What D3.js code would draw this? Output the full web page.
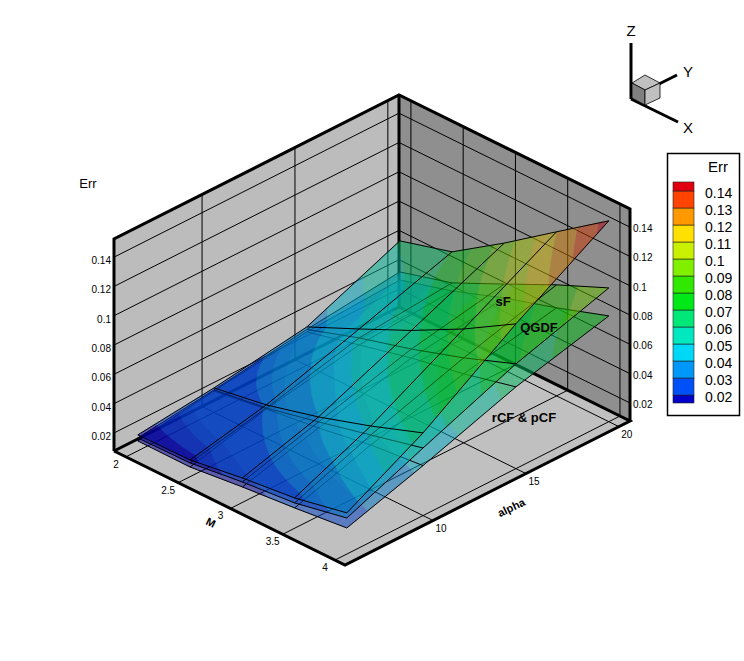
<!DOCTYPE html>
<html>
<head>
<meta charset="utf-8">
<script src="https://cdn.jsdelivr.net/npm/d3@7"></script>
<style>
  html, body { margin: 0; background: #fff; }
  text { font-family: "Liberation Sans", Arial, sans-serif; fill: #000; }
</style>
</head>
<body>
<div id="chart"></div>
<script>
// Grid of the three surfaces
const mValues = [2, 2.5, 3, 3.5, 4];
const alphaValues = [5.9, 10, 15, 20];

// Err, one row per alpha value, one column per M value
const sF = [
  [0.0186, 0.0191, 0.0244, 0.0284, 0.0358],
  [0.0244, 0.0304, 0.0398, 0.0512, 0.0641],
  [0.034, 0.0502, 0.0668, 0.0854, 0.1065],
  [0.0607, 0.0708, 0.0944, 0.1197, 0.1448]
];
const qgdf = [
  [0.0165, 0.0171, 0.0217, 0.025, 0.0323],
  [0.023, 0.0283, 0.0364, 0.0451, 0.0538],
  [0.0323, 0.0441, 0.0541, 0.0657, 0.0792],
  [0.0395, 0.0496, 0.0664, 0.0835, 0.099]
];
const rcf = [
  [0.0145, 0.0143, 0.0183, 0.0216, 0.0255],
  [0.0223, 0.0276, 0.0323, 0.0383, 0.0418],
  [0.0306, 0.0393, 0.048, 0.0548, 0.0635],
  [0.034, 0.0441, 0.0569, 0.0678, 0.0799]
];

const mTicks = [2, 2.5, 3, 3.5, 4];
const alphaTicks = [10, 15, 20];
const errTicks = [0.02, 0.04, 0.06, 0.08, 0.1, 0.12, 0.14];

const levels = [0.02, 0.03, 0.04, 0.05, 0.06, 0.07, 0.08, 0.09, 0.1, 0.11, 0.12, 0.13, 0.14];
const levelColors = ['#0000c8', '#0050f8', '#0098f8', '#00d8f8', '#00e8c0', '#00e878', '#00e818',
  '#30e800', '#80f000', '#c8f000', '#ffe000', '#ff9900', '#ff4400', '#e00010'];

const width = 744, height = 661;

const svg = d3.select('#chart').append('svg')
  .attr('width', width)
  .attr('height', height)
  .style('display', 'block');

// Parallel projection of the box: each axis is a scale along its own screen direction
const origin = [114, 451];
const scaleM = d3.scaleLinear().domain([1.886, 4.096]).range([0, 1]);
const scaleAlpha = d3.scaleLinear().domain([5.26, 20.6]).range([0, 1]);
const scaleErr = d3.scaleLinear().domain([0.0077, 0.1524]).range([0, 1]);
const color = d3.scaleThreshold().domain(levels).range(levelColors);

function project(m, a, z) {
  const u = scaleM(m), v = scaleAlpha(a), w = scaleErr(z);
  return [origin[0] + u * 231 + v * 285, origin[1] + u * 114 - v * 144 - w * 212];
}

const mMin = scaleM.domain()[0], mMax = scaleM.domain()[1];
const aMin = scaleAlpha.domain()[0], aMax = scaleAlpha.domain()[1];
const zMin = scaleErr.domain()[0], zMax = scaleErr.domain()[1];

const line = d3.line();
const poly = pts => 'M' + pts.map(p => p.join(',')).join('L') + 'Z';

// Walls and floor
const box = svg.append('g');
box.append('path')
  .attr('d', poly([project(mMin, aMin, zMin), project(mMax, aMin, zMin), project(mMax, aMax, zMin), project(mMin, aMax, zMin)]))
  .attr('fill', '#c0c0c0');
box.append('path')
  .attr('d', poly([project(mMin, aMin, zMin), project(mMin, aMax, zMin), project(mMin, aMax, zMax), project(mMin, aMin, zMax)]))
  .attr('fill', '#bcbcbc');
box.append('path')
  .attr('d', poly([project(mMin, aMax, zMin), project(mMax, aMax, zMin), project(mMax, aMax, zMax), project(mMin, aMax, zMax)]))
  .attr('fill', '#8f8f8f');

// Grid lines
const gridLines = [];
mTicks.forEach(m => {
  gridLines.push([project(m, aMin, zMin), project(m, aMax, zMin)]);
  gridLines.push([project(m, aMax, zMin), project(m, aMax, zMax)]);
});
alphaTicks.forEach(a => {
  gridLines.push([project(mMax, a, zMin), project(mMin, a, zMin)]);
  gridLines.push([project(mMin, a, zMin), project(mMin, a, zMax)]);
});
errTicks.forEach(z => {
  gridLines.push([project(mMin, aMin, z), project(mMin, aMax, z)]);
  gridLines.push([project(mMin, aMax, z), project(mMax, aMax, z)]);
});
box.selectAll('path.grid').data(gridLines).enter().append('path')
  .attr('class', 'grid')
  .attr('d', line)
  .attr('fill', 'none')
  .attr('stroke', '#000')
  .attr('stroke-width', 1);

// Thick box edges
const edges = [
  [project(mMin, aMin, zMin), project(mMin, aMin, zMax), project(mMin, aMax, zMax), project(mMax, aMax, zMax), project(mMax, aMax, zMin)],
  [project(mMin, aMin, zMin), project(mMax, aMin, zMin), project(mMax, aMax, zMin), project(mMin, aMax, zMin), project(mMin, aMin, zMin)],
  [project(mMin, aMax, zMin), project(mMin, aMax, zMax)]
];
box.selectAll('path.edge').data(edges).enter().append('path')
  .attr('class', 'edge')
  .attr('d', line)
  .attr('fill', 'none')
  .attr('stroke', '#000')
  .attr('stroke-width', 3)
  .attr('stroke-linejoin', 'miter');

// Keep the part of a polygon on one side of an Err level
function clipAbove(pts, lim, sign) {
  const out = [];
  pts.forEach((p, i) => {
    const q = pts[(i + 1) % pts.length];
    const dp = (p[2] - lim) * sign, dq = (q[2] - lim) * sign;
    if (dp >= 0) out.push(p);
    if ((dp >= 0) !== (dq >= 0)) {
      const t = dp / (dp - dq);
      out.push([p[0] + t * (q[0] - p[0]), p[1] + t * (q[1] - p[1]), p[2] + t * (q[2] - p[2])]);
    }
  });
  return out;
}

// Flood bands: every cell is cut finer so the contours bend as a bilinear cell does
const cellCuts = 6;
function bandPieces(values) {
  const pieces = [];
  const bounds = [-1].concat(levels, [1]);
  for (let j = 0; j < alphaValues.length - 1; j++) {
    for (let i = 0; i < mValues.length - 1; i++) {
      const sample = (s, t) => {
        const low = d3.interpolateNumber(values[j][i], values[j][i + 1])(s);
        const high = d3.interpolateNumber(values[j + 1][i], values[j + 1][i + 1])(s);
        return [
          d3.interpolateNumber(mValues[i], mValues[i + 1])(s),
          d3.interpolateNumber(alphaValues[j], alphaValues[j + 1])(t),
          d3.interpolateNumber(low, high)(t)
        ];
      };
      for (let a = 0; a < cellCuts; a++) {
        for (let b = 0; b < cellCuts; b++) {
          const s0 = a / cellCuts, s1 = (a + 1) / cellCuts, t0 = b / cellCuts, t1 = (b + 1) / cellCuts;
          const quad = [sample(s0, t0), sample(s1, t0), sample(s1, t1), sample(s0, t1)];
          d3.pairs(bounds).forEach(([lo, hi]) => {
            let part = clipAbove(quad, lo, 1);
            if (part.length) part = clipAbove(part, hi, -1);
            if (part.length > 2) pieces.push({ pts: part, lo: lo });
          });
        }
      }
    }
  }
  return pieces;
}

const shade = d => d3.color(color(Math.max(d.lo, 0) + 1e-6)).darker(0.7);

// Surfaces, lowest first so the upper ones lie over it
[rcf, qgdf, sF].forEach(values => {
  const surface = svg.append('g');
  const fill = surface.append('g').attr('opacity', 0.52);
  fill.selectAll('path').data(bandPieces(values)).enter().append('path')
    .attr('d', d => poly(d.pts.map(p => project(p[0], p[1], p[2]))))
    .attr('fill', shade)
    .attr('stroke', shade)
    .attr('stroke-width', 0.6);

  const wires = [];
  alphaValues.forEach((a, j) => wires.push(mValues.map((m, i) => project(m, a, values[j][i]))));
  mValues.forEach((m, i) => wires.push(alphaValues.map((a, j) => project(m, a, values[j][i]))));
  surface.selectAll('path.wire').data(wires).enter().append('path')
    .attr('class', 'wire')
    .attr('d', line)
    .attr('fill', 'none')
    .attr('stroke', '#000')
    .attr('stroke-width', 1);
});

// Tick labels
const labels = svg.append('g').style('font-size', '10px');
errTicks.forEach(z => {
  const l = project(mMin, aMin, z), r = project(mMax, aMax, z);
  labels.append('text').attr('x', l[0] - 3).attr('y', l[1] + 7).attr('text-anchor', 'end').text(z);
  labels.append('text').attr('x', r[0] + 3).attr('y', r[1] + 5).text(z);
});
mTicks.forEach(m => {
  const p = project(m, aMin, zMin);
  labels.append('text').attr('x', p[0] - 10).attr('y', p[1] + 11).attr('text-anchor', 'middle').text(m);
});
alphaTicks.forEach(a => {
  const p = project(mMax, a, zMin);
  labels.append('text').attr('x', p[0] + 8).attr('y', p[1] + 11).attr('text-anchor', 'middle').text(a);
});

// Axis titles
svg.append('text').attr('x', 88).attr('y', 188).attr('text-anchor', 'middle').style('font-size', '13px').text('Err');
svg.append('text').attr('transform', 'translate(209,526) rotate(26)').attr('text-anchor', 'middle')
  .style('font-size', '11px').style('font-weight', 'bold').text('M');
svg.append('text').attr('transform', 'translate(513,511) rotate(-26)').attr('text-anchor', 'middle')
  .style('font-size', '11px').style('font-weight', 'bold').text('alpha');

// Surface names
const names = [['sF', 503, 306], ['QGDF', 539, 332], ['rCF & pCF', 524, 422]];
svg.selectAll('text.name').data(names).enter().append('text')
  .attr('class', 'name')
  .attr('x', d => d[1]).attr('y', d => d[2])
  .attr('text-anchor', 'middle')
  .style('font-size', '13px').style('font-weight', 'bold')
  .text(d => d[0]);

// Orientation triad
const triad = svg.append('g');
const thick = [[[631, 43], [631, 99]], [[631, 99], [678, 122]], [[659, 84], [677, 75]]];
triad.selectAll('path.arm').data(thick).enter().append('path')
  .attr('class', 'arm').attr('d', line).attr('fill', 'none').attr('stroke', '#000').attr('stroke-width', 3);
const cube = [
  { pts: [[645, 75], [660, 83], [645, 90], [632, 83]], fill: '#c0c0c0' },
  { pts: [[632, 83], [645, 90], [645, 105], [632, 98]], fill: '#808080' },
  { pts: [[645, 90], [660, 83], [660, 98], [645, 105]], fill: '#c0c0c0' }
];
triad.selectAll('path.face').data(cube).enter().append('path')
  .attr('class', 'face').attr('d', d => poly(d.pts)).attr('fill', d => d.fill)
  .attr('stroke', '#000').attr('stroke-width', 0.8);
[['Z', 631, 36], ['Y', 688, 77], ['X', 688, 133]].forEach(d => {
  triad.append('text').attr('x', d[1]).attr('y', d[2]).attr('text-anchor', 'middle')
    .style('font-size', '15px').text(d[0]);
});

// Contour legend
const legend = svg.append('g');
legend.append('rect').attr('x', 667.5).attr('y', 153.5).attr('width', 72).attr('height', 262)
  .attr('fill', '#fff').attr('stroke', '#000').attr('stroke-width', 1.5);
legend.append('text').attr('x', 718).attr('y', 172).attr('text-anchor', 'middle').style('font-size', '15px').text('Err');
const legendY = d3.scaleLinear().domain([0.14, 0.02]).range([191, 395]);
const swatchBounds = [0.02 - 0.0047].concat(levels, [0.14 + 0.0053]);
legend.selectAll('rect.swatch').data(d3.pairs(swatchBounds)).enter().append('rect')
  .attr('class', 'swatch')
  .attr('x', 673).attr('width', 21)
  .attr('y', d => legendY(d[1]))
  .attr('height', d => legendY(d[0]) - legendY(d[1]))
  .attr('fill', (d, i) => levelColors[i])
  .attr('stroke', '#222').attr('stroke-width', 0.6);
legend.selectAll('text.level').data(levels).enter().append('text')
  .attr('class', 'level')
  .attr('x', 705).attr('y', d => legendY(d) + 7)
  .style('font-size', '14px')
  .text(d => d);
</script>
</body>
</html>
